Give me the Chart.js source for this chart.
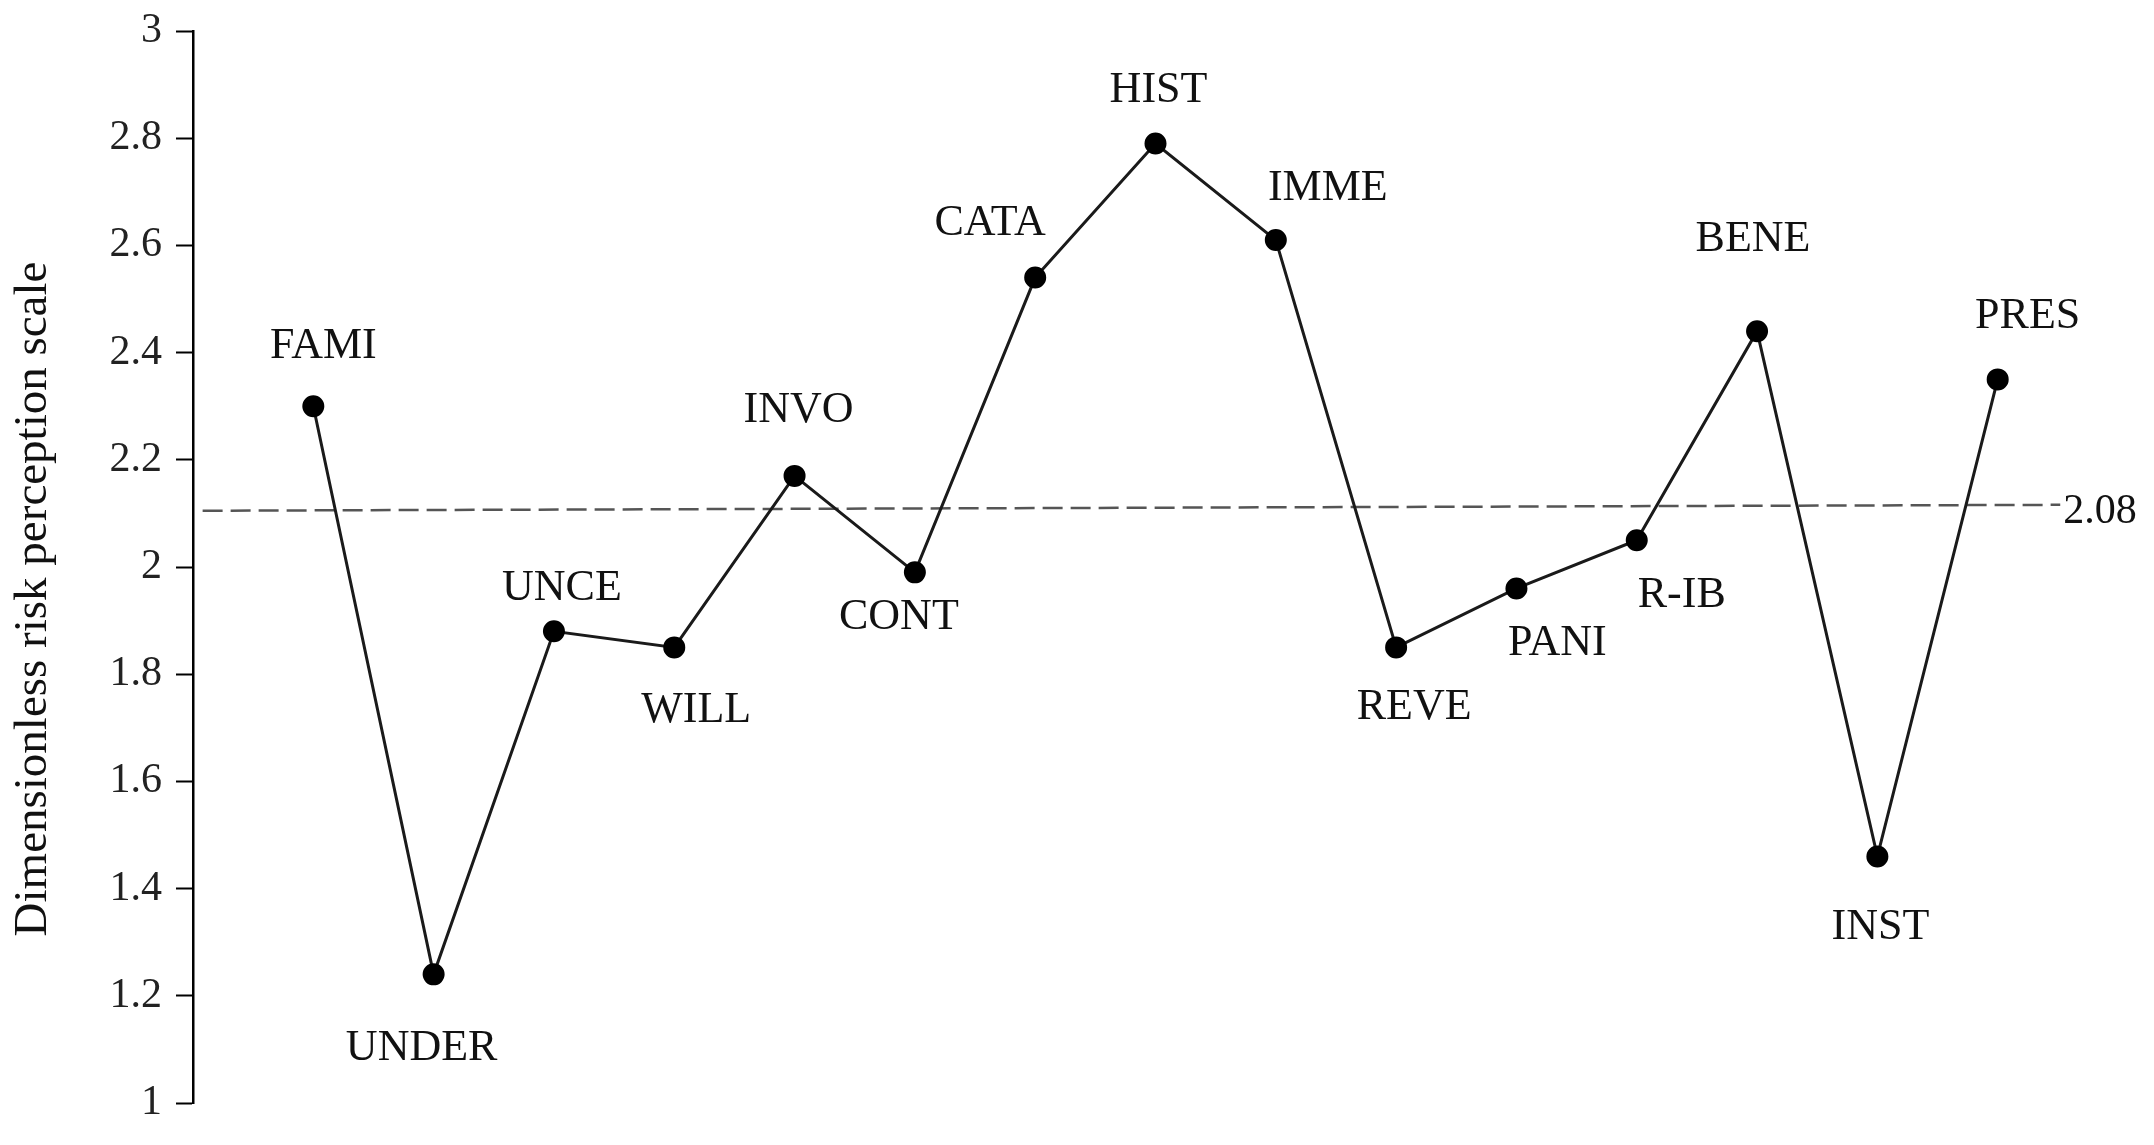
<!DOCTYPE html>
<html>
<head>
<meta charset="utf-8">
<script src="https://cdn.jsdelivr.net/npm/chart.js@4/dist/chart.umd.min.js"></script>
<style>
  html, body { margin: 0; padding: 0; background: #fff; }
</style>
</head>
<body>
<canvas id="riskChart" width="2154" height="1145"></canvas>
<script>
// categories and values
const categories = ['FAMI', 'UNDER', 'UNCE', 'WILL', 'INVO', 'CONT', 'CATA', 'HIST',
                    'IMME', 'REVE', 'PANI', 'R-IB', 'BENE', 'INST', 'PRES'];
const perception = [2.30, 1.24, 1.88, 1.85, 2.17, 1.99, 2.54, 2.79,
                     2.61, 1.85, 1.96, 2.05, 2.44, 1.46, 2.35];
const yTicks = [1, 1.2, 1.4, 1.6, 1.8, 2, 2.2, 2.4, 2.6, 2.8, 3];
const yTitle = 'Dimensionless risk perception scale';

// mean reference line (drawn a little tilted in the original)
const meanLineX = [0.08, 15.52];
const meanLineY = [2.105, 2.116];
const meanLabel = '2.08';

// label placement relative to each point (px)
const labelOffsets = [
    [10, -60], [-12, 74], [8, -43], [22, 63], [4, -65], [-16, 45], [-45, -54], [3, -53],
    [52, -52], [18, 60], [41, 55], [45, 55], [-4, -92], [3, 71], [30, -63]
];

const serif = '"Liberation Serif", "Times New Roman", serif';

const pointLabels = {
    id: 'pointLabels',
    afterDatasetsDraw(chart) {
        const ctx = chart.ctx;
        const pts = chart.getDatasetMeta(0).data;
        ctx.save();
        ctx.font = '44px ' + serif;
        ctx.fillStyle = '#111';
        ctx.textAlign = 'center';
        ctx.textBaseline = 'middle';
        pts.forEach((p, i) => {
            ctx.fillText(categories[i], p.x + labelOffsets[i][0], p.y + labelOffsets[i][1]);
        });
        // label at the end of the dashed line
        const m = chart.getDatasetMeta(1).data;
        const last = m[m.length - 1];
        ctx.textAlign = 'left';
        ctx.font = '42px ' + serif;
        ctx.fillText(meanLabel, last.x + 3, last.y + 7);

        // y axis title, sits a bit below the middle of the axis in the original
        const area = chart.chartArea;
        ctx.translate(34, (area.top + area.bottom) / 2 + 32);
        ctx.rotate(-Math.PI / 2);
        ctx.textAlign = 'center';
        ctx.font = '47px ' + serif;
        ctx.fillText(yTitle, 0, 0);
        ctx.restore();
    }
};

const ctx = document.getElementById('riskChart').getContext('2d');
const riskChart = new Chart(ctx, {
    type: 'line',
    data: {
        datasets: [{
            label: 'Risk perception',
            data: perception.map((v, i) => ({ x: i + 1, y: v })),
            borderColor: '#1a1a1a',
            borderWidth: 3,
            backgroundColor: '#000',
            pointBackgroundColor: '#000',
            pointBorderColor: '#000',
            pointRadius: 10,
            pointBorderWidth: 2,
            tension: 0,
            fill: false
        }, {
            label: 'Mean',
            data: meanLineX.map((x, i) => ({ x: x, y: meanLineY[i] })),
            borderColor: '#555',
            borderWidth: 2.5,
            borderDash: [20, 8],
            pointRadius: 0,
            fill: false
        }]
    },
    options: {
        responsive: false,
        animation: false,
        layout: {
            padding: { top: 31, bottom: 42, right: 36, left: 0 }
        },
        scales: {
            x: {
                type: 'linear',
                min: 0,
                max: 16,
                display: false
            },
            y: {
                min: 1,
                max: 3,
                afterBuildTicks: (scale) => {
                    scale.ticks = yTicks.map(v => ({ value: v }));
                },
                afterFit: (scale) => {
                    scale.width = 193;
                    scale.paddingTop = 0;
                    scale.paddingBottom = 0;
                },
                ticks: {
                    callback: (v) => String(+v.toFixed(1)),
                    font: { family: serif, size: 42 },
                    color: '#222',
                    padding: 14
                },
                grid: {
                    drawOnChartArea: false,
                    tickLength: 17,
                    tickColor: '#000',
                    tickWidth: 2
                },
                border: {
                    color: '#000',
                    width: 2.5
                },
                title: {
                    display: false
                }
            }
        },
        plugins: {
            legend: { display: false },
            tooltip: { enabled: false }
        }
    },
    plugins: [pointLabels]
});
</script>
</body>
</html>
